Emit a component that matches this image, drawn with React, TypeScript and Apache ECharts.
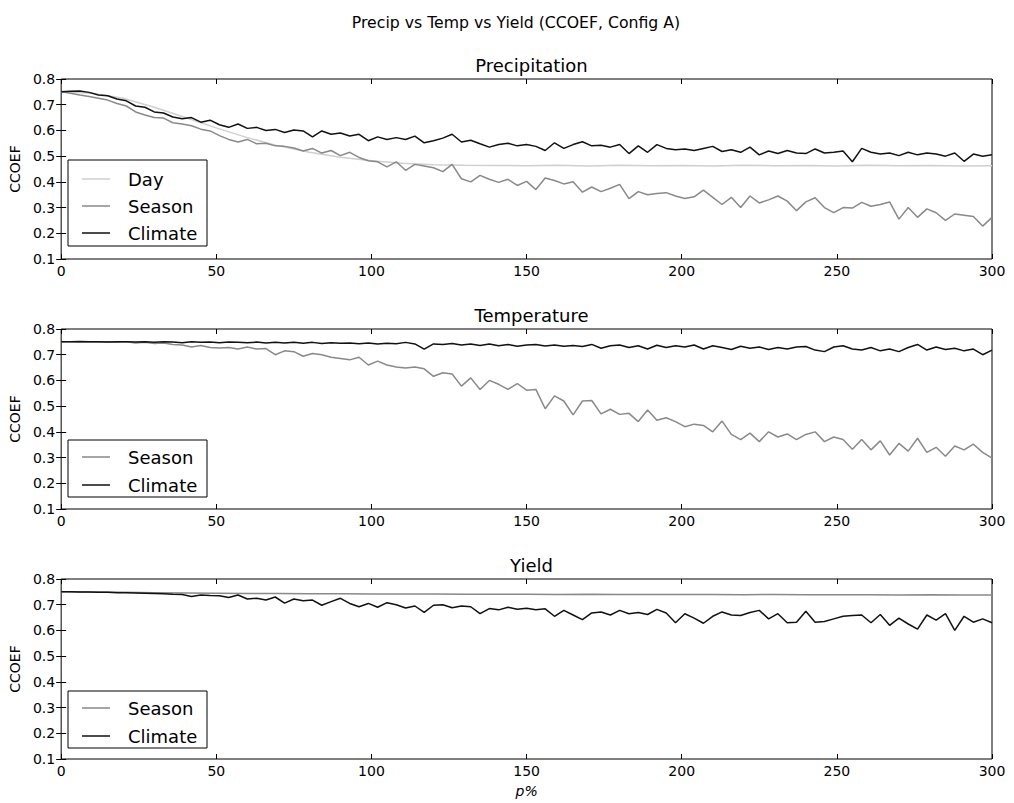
import React, { useEffect, useRef } from "react";
import * as echarts from "echarts";

const STEP = 3; // x spacing (p%) of the sampled noisy series
const DSTEP = 10; // x spacing of the smooth series

const xTicks = [0, 50, 100, 150, 200, 250, 300];
const yTicks = [0.1, 0.2, 0.3, 0.4, 0.5, 0.6, 0.7, 0.8];

const precipDay = [0.750, 0.745, 0.725, 0.690, 0.650, 0.610, 0.572, 0.540, 0.515, 0.496, 0.482, 0.472, 0.467, 0.465, 0.464, 0.463, 0.465, 0.462, 0.465, 0.463, 0.464, 0.462, 0.465, 0.463, 0.464, 0.462, 0.465, 0.463, 0.464, 0.462, 0.463];

const precipSeason = [0.750, 0.745, 0.738, 0.732, 0.725, 0.718, 0.705, 0.695, 0.672, 0.660, 0.650, 0.648, 0.630, 0.625, 0.618, 0.605, 0.598, 0.580, 0.565, 0.555, 0.565, 0.548, 0.550, 0.540, 0.538, 0.532, 0.520, 0.530, 0.512, 0.522, 0.502, 0.515, 0.495, 0.482, 0.478, 0.458, 0.478, 0.445, 0.468, 0.462, 0.455, 0.440, 0.468, 0.412, 0.400, 0.425, 0.410, 0.398, 0.410, 0.386, 0.402, 0.370, 0.415, 0.405, 0.392, 0.400, 0.360, 0.380, 0.362, 0.375, 0.390, 0.335, 0.362, 0.350, 0.355, 0.358, 0.345, 0.335, 0.342, 0.368, 0.340, 0.312, 0.340, 0.300, 0.345, 0.318, 0.330, 0.345, 0.325, 0.288, 0.322, 0.338, 0.300, 0.280, 0.300, 0.298, 0.320, 0.305, 0.312, 0.322, 0.255, 0.300, 0.262, 0.295, 0.280, 0.250, 0.275, 0.270, 0.265, 0.228, 0.262];

const precipClimate = [0.750, 0.752, 0.753, 0.748, 0.738, 0.735, 0.722, 0.715, 0.695, 0.690, 0.672, 0.668, 0.652, 0.645, 0.650, 0.632, 0.640, 0.622, 0.612, 0.625, 0.608, 0.612, 0.600, 0.604, 0.592, 0.602, 0.598, 0.575, 0.598, 0.585, 0.590, 0.578, 0.585, 0.560, 0.575, 0.565, 0.572, 0.565, 0.578, 0.552, 0.560, 0.570, 0.585, 0.555, 0.562, 0.548, 0.535, 0.545, 0.550, 0.540, 0.545, 0.538, 0.522, 0.552, 0.530, 0.545, 0.556, 0.540, 0.542, 0.535, 0.545, 0.510, 0.540, 0.515, 0.545, 0.530, 0.525, 0.528, 0.522, 0.530, 0.538, 0.518, 0.525, 0.515, 0.535, 0.505, 0.520, 0.510, 0.522, 0.512, 0.510, 0.528, 0.512, 0.515, 0.520, 0.478, 0.530, 0.515, 0.508, 0.512, 0.502, 0.515, 0.505, 0.512, 0.508, 0.500, 0.512, 0.480, 0.508, 0.500, 0.505];

const tempSeason = [0.750, 0.750, 0.749, 0.750, 0.749, 0.750, 0.748, 0.750, 0.746, 0.748, 0.744, 0.746, 0.740, 0.738, 0.730, 0.736, 0.728, 0.726, 0.728, 0.722, 0.730, 0.722, 0.724, 0.700, 0.715, 0.712, 0.694, 0.705, 0.700, 0.690, 0.685, 0.680, 0.690, 0.660, 0.675, 0.660, 0.652, 0.648, 0.652, 0.645, 0.616, 0.630, 0.625, 0.578, 0.610, 0.565, 0.600, 0.585, 0.565, 0.588, 0.562, 0.565, 0.490, 0.540, 0.520, 0.466, 0.520, 0.522, 0.470, 0.488, 0.468, 0.472, 0.440, 0.485, 0.445, 0.455, 0.440, 0.420, 0.430, 0.425, 0.400, 0.442, 0.390, 0.370, 0.395, 0.362, 0.400, 0.380, 0.392, 0.370, 0.390, 0.400, 0.362, 0.380, 0.370, 0.332, 0.370, 0.330, 0.365, 0.310, 0.355, 0.325, 0.375, 0.320, 0.340, 0.305, 0.345, 0.330, 0.352, 0.320, 0.298];

const tempClimate = [0.750, 0.750, 0.751, 0.750, 0.750, 0.749, 0.750, 0.750, 0.749, 0.750, 0.748, 0.750, 0.749, 0.747, 0.750, 0.748, 0.749, 0.747, 0.749, 0.748, 0.747, 0.749, 0.746, 0.748, 0.746, 0.748, 0.745, 0.748, 0.744, 0.747, 0.745, 0.746, 0.743, 0.746, 0.742, 0.745, 0.743, 0.748, 0.742, 0.722, 0.742, 0.740, 0.744, 0.738, 0.742, 0.736, 0.742, 0.735, 0.740, 0.733, 0.738, 0.740, 0.734, 0.738, 0.733, 0.736, 0.732, 0.740, 0.725, 0.735, 0.738, 0.728, 0.735, 0.722, 0.737, 0.728, 0.735, 0.730, 0.738, 0.722, 0.735, 0.728, 0.720, 0.733, 0.725, 0.730, 0.720, 0.728, 0.722, 0.730, 0.732, 0.718, 0.712, 0.730, 0.735, 0.722, 0.718, 0.728, 0.715, 0.722, 0.712, 0.728, 0.740, 0.718, 0.730, 0.720, 0.725, 0.715, 0.722, 0.700, 0.718];

const yieldSeason = [0.750, 0.749, 0.748, 0.747, 0.746, 0.745, 0.744, 0.744, 0.743, 0.743, 0.742, 0.742, 0.742, 0.741, 0.741, 0.741, 0.740, 0.741, 0.740, 0.740, 0.740, 0.740, 0.739, 0.740, 0.739, 0.739, 0.739, 0.738, 0.739, 0.738, 0.738];

const yieldClimate = [0.750, 0.750, 0.749, 0.749, 0.748, 0.748, 0.747, 0.747, 0.746, 0.745, 0.744, 0.743, 0.741, 0.740, 0.732, 0.738, 0.736, 0.735, 0.728, 0.738, 0.722, 0.725, 0.718, 0.730, 0.706, 0.722, 0.715, 0.718, 0.698, 0.712, 0.725, 0.705, 0.692, 0.705, 0.690, 0.708, 0.700, 0.687, 0.695, 0.670, 0.698, 0.700, 0.688, 0.695, 0.692, 0.665, 0.685, 0.680, 0.690, 0.682, 0.686, 0.680, 0.684, 0.655, 0.678, 0.660, 0.642, 0.668, 0.672, 0.660, 0.678, 0.665, 0.670, 0.662, 0.682, 0.668, 0.630, 0.665, 0.648, 0.628, 0.655, 0.672, 0.660, 0.658, 0.670, 0.678, 0.645, 0.665, 0.630, 0.632, 0.675, 0.632, 0.635, 0.645, 0.655, 0.658, 0.660, 0.630, 0.662, 0.620, 0.648, 0.625, 0.605, 0.660, 0.640, 0.665, 0.600, 0.655, 0.632, 0.645, 0.630];

const FONT = "'DejaVu Sans', 'Liberation Sans', sans-serif";
const COLORS = { Day: "#cfcfcf", Season: "#898989", Climate: "#111111" };

const panels = [
  { title: "Precipitation", top: 79, legendTop: 160, legendH: 86, entryY: [179, 206, 233], series: [["Day", precipDay, DSTEP], ["Season", precipSeason, STEP], ["Climate", precipClimate, STEP]] },
  { title: "Temperature", top: 329, legendTop: 440, legendH: 57, entryY: [457, 485], series: [["Season", tempSeason, STEP], ["Climate", tempClimate, STEP]] },
  { title: "Yield", top: 579, legendTop: 691, legendH: 57, entryY: [708, 736], series: [["Season", yieldSeason, DSTEP], ["Climate", yieldClimate, STEP]] },
] as const;

const GRID_LEFT = 61;
const GRID_W = 931;
const GRID_H = 180;

export default function App() {
  const ref = useRef<HTMLDivElement>(null);
  useEffect(() => {
    if (!ref.current) return;
    const chart = echarts.init(ref.current, null, { renderer: "svg" });
    const grids: any[] = [];
    const xAxes: any[] = [];
    const yAxes: any[] = [];
    const series: any[] = [];
    const titles: any[] = [
      { text: "Precip vs Temp vs Yield (CCOEF, Config A)", left: 511, top: 9, textAlign: "center", textStyle: { fontFamily: FONT, fontSize: 15.7, fontWeight: "normal", color: "#000" } },
    ];
    const graphics: any[] = [];

    panels.forEach((p, i) => {
      grids.push({ left: GRID_LEFT, top: p.top, width: GRID_W, height: GRID_H, show: true, borderColor: "#000", borderWidth: 1, backgroundColor: "transparent" });
      const tick = { show: true, inside: true, length: 5, lineStyle: { color: "#000", width: 1 } };
      xAxes.push({
        gridIndex: i, type: "value", min: 0, max: 300, interval: 50, position: "bottom",
        axisLine: { show: false }, axisTick: tick, splitLine: { show: false },
        axisLabel: { fontFamily: FONT, fontSize: 14, color: "#000", margin: 5, formatter: (v: number) => (xTicks.includes(v) ? String(v) : "") },
        ...(i === 2 ? { name: "p%", nameLocation: "middle", nameGap: 25, nameTextStyle: { fontFamily: FONT, fontSize: 14, fontStyle: "italic", color: "#000" } } : {}),
      });
      xAxes.push({
        gridIndex: i, type: "value", min: 0, max: 300, interval: 50, position: "top",
        axisLine: { show: false }, axisTick: tick, splitLine: { show: false }, axisLabel: { show: false },
      });
      yAxes.push({
        gridIndex: i, type: "value", min: 0.1, max: 0.8, interval: 0.1, position: "left",
        axisLine: { show: false }, axisTick: tick, splitLine: { show: false },
        axisLabel: { fontFamily: FONT, fontSize: 14, color: "#000", margin: 6, formatter: (v: number) => { const t = yTicks.find((y) => Math.abs(y - v) < 1e-6); return t === undefined ? "" : t.toFixed(1); } },
        name: "CCOEF", nameLocation: "middle", nameGap: 37, nameRotate: 90,
        nameTextStyle: { fontFamily: FONT, fontSize: 14, color: "#000" },
      });
      yAxes.push({
        gridIndex: i, type: "value", min: 0.1, max: 0.8, interval: 0.1, position: "right",
        axisLine: { show: false }, axisTick: tick, splitLine: { show: false }, axisLabel: { show: false },
      });
      titles.push({ text: p.title, left: GRID_LEFT + GRID_W / 2, top: p.top - 28, textAlign: "center", textStyle: { fontFamily: FONT, fontSize: 18, fontWeight: "normal", color: "#000" } });

      p.series.forEach(([name, vals, step]) => {
        series.push({
          type: "line", name, xAxisIndex: 2 * i, yAxisIndex: 2 * i,
          data: (vals as readonly number[]).map((v, k) => [k * (step as number), v]),
          showSymbol: false, symbol: "none",
          lineStyle: { color: (COLORS as any)[name as string], width: 1.5 },
          itemStyle: { color: (COLORS as any)[name as string] },
          z: 2,
        });
      });

      // legend box (matplotlib style)
      const children: any[] = [
        { type: "rect", shape: { x: 68, y: p.legendTop, width: 139, height: p.legendH }, style: { fill: "#fff", stroke: "#000", lineWidth: 1 } },
      ];
      p.series.forEach(([name], k) => {
        const cy = p.entryY[k];
        children.push({ type: "line", shape: { x1: 82, y1: cy, x2: 110, y2: cy }, style: { stroke: (COLORS as any)[name as string], lineWidth: 1.5 } });
        children.push({ type: "text", x: 128, y: cy, style: { text: name, fontFamily: FONT, fontSize: 18, fill: "#000", textVerticalAlign: "middle", verticalAlign: "middle" } });
      });
      graphics.push({ type: "group", z: 100, children });
    });

    chart.setOption({
      animation: false,
      backgroundColor: "#fff",
      title: titles,
      grid: grids,
      xAxis: xAxes,
      yAxis: yAxes,
      series,
      graphic: graphics,
    });
    return () => chart.dispose();
  }, []);
  return <div ref={ref} style={{ position: "absolute", left: 0, top: 0, width: 1014, height: 803 }} />;
}
